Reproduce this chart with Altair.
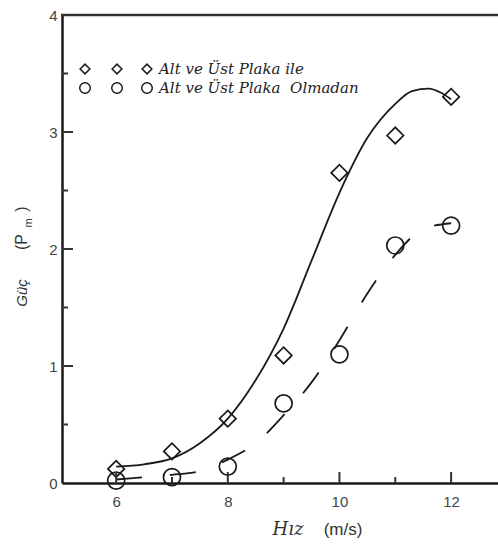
import altair as alt
import pandas as pd

speed = [6, 7, 8, 9, 10, 11, 12]
power_with = [0.12, 0.27, 0.55, 1.09, 2.65, 2.97, 3.30]
power_without = [0.02, 0.05, 0.14, 0.68, 1.10, 2.03, 2.20]

fit_x_solid = [6.0, 6.5, 7.0, 7.5, 8.0, 8.5, 9.0, 9.5, 10.0, 10.5, 11.0, 11.3, 11.6, 11.8, 12.0]
fit_y_solid = [0.14, 0.16, 0.21, 0.34, 0.55, 0.88, 1.32, 1.90, 2.48, 2.95, 3.24, 3.35, 3.37, 3.34, 3.28]
fit_x_dash = [6.0, 6.5, 7.0, 7.5, 8.0, 8.5, 9.0, 9.5, 10.0, 10.5, 11.0, 11.5, 12.0]
fit_y_dash = [0.03, 0.05, 0.07, 0.10, 0.20, 0.34, 0.58, 0.86, 1.22, 1.62, 1.95, 2.17, 2.22]

x_major = [6, 8, 10, 12]
x_minor = [7, 9, 11]
y_major = [1, 2, 3]
y_minor = [0.5, 1.5, 2.5, 3.5]
y_labels = [0, 1, 2, 3, 4]

legend_labels = ["Alt ve Üst Plaka ile", "Alt ve Üst Plaka\u00a0 Olmadan"]

W, H = 436, 468
INK = "#1a1a1a"
FRAME = "#333333"
X0, X1 = 5.03, 12.84
Y0, Y1 = 0, 4

xs = alt.Scale(domain=[X0, X1], nice=False, zero=False)
ys = alt.Scale(domain=[Y0, Y1], nice=False, zero=False)

pts = pd.DataFrame({"x": speed, "a": power_with, "b": power_without})
solid = pd.DataFrame({"x": fit_x_solid, "y": fit_y_solid})
dash = pd.DataFrame({"x": fit_x_dash, "y": fit_y_dash})

xaxis = alt.Axis(values=x_major, title=None, grid=False, tickSize=0, labelPadding=11,
                 labelFont="Liberation Sans", labelFontSize=15, labelColor="#444",
                 domainColor=INK, domainWidth=2.5, labelFlush=False, format="d")
yaxis = alt.Axis(values=y_labels, title=None, grid=False, tickSize=0, labelPadding=5,
                 labelFont="Liberation Sans", labelFontSize=15, labelColor="#444",
                 domainColor=INK, domainWidth=2.5, labelFlush=False, format="d")

base_line = alt.Chart(solid).mark_line(color=INK, strokeWidth=1.8, interpolate="monotone").encode(
    x=alt.X("x:Q", scale=xs, axis=xaxis),
    y=alt.Y("y:Q", scale=ys, axis=yaxis),
)
dash_line = alt.Chart(dash).mark_line(color=INK, strokeWidth=1.8, interpolate="monotone",
                                      strokeDash=[26, 28]).encode(
    x=alt.X("x:Q", scale=xs), y=alt.Y("y:Q", scale=ys))

diamonds = alt.Chart(pts).mark_point(shape="diamond", filled=False, size=270, color=INK,
                                     strokeWidth=1.7, opacity=1).encode(
    x=alt.X("x:Q", scale=xs), y=alt.Y("a:Q", scale=ys))
circles = alt.Chart(pts).mark_point(shape="circle", filled=False, size=290, color=INK,
                                    strokeWidth=1.7, opacity=1).encode(
    x=alt.X("x:Q", scale=xs), y=alt.Y("b:Q", scale=ys))

# inward ticks as point marks with stroke-only shapes
UP = "M0,0L0,-1"
RIGHT = "M0,0L1,0"

def xt(vals, size):
    return alt.Chart(pd.DataFrame({"v": vals})).mark_point(
        shape=UP, size=size, filled=False, color=FRAME, strokeWidth=2, opacity=1).encode(
        x=alt.X("v:Q", scale=xs), y=alt.value(H))

def yt(vals, size):
    return alt.Chart(pd.DataFrame({"v": vals})).mark_point(
        shape=RIGHT, size=size, filled=False, color=FRAME, strokeWidth=2, opacity=1).encode(
        y=alt.Y("v:Q", scale=ys), x=alt.value(0))

top = alt.Chart(pd.DataFrame({"k": [0]})).mark_rule(color=FRAME, strokeWidth=2.5).encode(
    x=alt.value(-1), x2=alt.value(W), y=alt.value(0))

one = pd.DataFrame({"k": [0]})

def txt(s, x, y, size, font="Liberation Sans", style="normal", angle=0, align="center", color="#333"):
    return alt.Chart(one).mark_text(text=s, font=font, fontStyle=style, fontSize=size, angle=angle,
                                    align=align, baseline="middle", color=color).encode(
        x=alt.value(x), y=alt.value(y))

def sym(shape, x, y, size):
    return alt.Chart(one).mark_point(shape=shape, filled=False, size=size, color=INK,
                                     strokeWidth=1.5, opacity=1).encode(
        x=alt.value(x), y=alt.value(y))

legend_layers = []
for xx in [23, 55, 85]:
    legend_layers.append(sym("diamond", xx, 54, 95))
    legend_layers.append(sym("circle", xx, 73, 110))
legend_layers.append(txt(legend_labels[0], 97, 54, 15, font="DejaVu Serif", style="italic", align="left", color="#222"))
legend_layers.append(txt(legend_labels[1], 97, 73, 15, font="DejaVu Serif", style="italic", align="left", color="#222"))

titles = [
    txt("Hız", 226, 515, 18, font="DejaVu Serif", style="italic"),
    txt("(m/s)", 281, 515, 17),
    txt("Güç", -40, 278, 15, style="italic", angle=270),
    txt("(P", -40, 227, 16, angle=270),
    txt("m", -33, 208, 11, angle=270),
    txt(")", -40, 194, 16, angle=270),
]

chart = alt.layer(
    base_line, dash_line, diamonds, circles,
    xt(x_major, 484), xt(x_minor, 144), yt(y_major, 484), yt(y_minor, 144), top,
    *legend_layers, *titles,
).properties(
    width=W, height=H,
    padding={"left": 62, "top": 15, "right": 0, "bottom": 62},
    autosize=alt.AutoSizeParams(type="none"),
    background="white",
).configure_view(stroke=None)

chart.save("out.html", embed_options={"renderer": "svg", "actions": False})
